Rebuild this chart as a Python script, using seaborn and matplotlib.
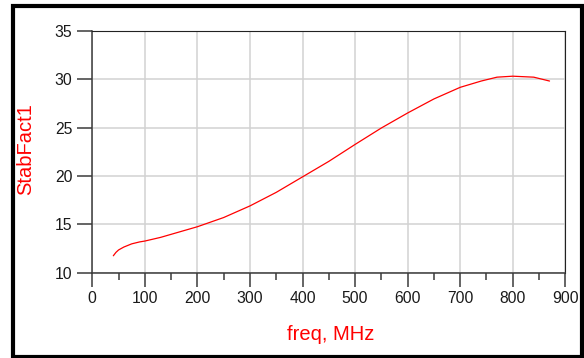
import matplotlib
matplotlib.use("Agg")
import matplotlib.pyplot as plt
import seaborn as sns
import pandas as pd
from matplotlib.patches import Rectangle
from matplotlib.ticker import MultipleLocator

freq = [40, 45, 50, 60, 75, 90, 100, 130, 165, 200, 250, 300, 350, 400, 450, 500,
        550, 600, 650, 700, 740, 770, 800, 840, 870]
stab = [11.75, 12.1, 12.35, 12.65, 12.98, 13.18, 13.27, 13.65, 14.2, 14.75, 15.7,
        16.9, 18.3, 19.9, 21.5, 23.25, 24.95, 26.5, 27.95, 29.15, 29.8, 30.2,
        30.3, 30.2, 29.8]
x_ticks = [0, 100, 200, 300, 400, 500, 600, 700, 800, 900]
y_ticks = [10, 15, 20, 25, 30, 35]
x_label = "freq, MHz"
y_label = "StabFact1"

sns.set_style("white")
plt.rcParams['font.family'] = ['Liberation Sans', 'DejaVu Sans']

W, H = 584, 358
fig = plt.figure(figsize=(W / 100, H / 100), dpi=100)
ax = fig.add_axes([92.3 / W, (H - 272.7) / H, (565.3 - 92.3) / W, (272.7 - 30.7) / H])

df = pd.DataFrame({"freq": freq, "stab": stab})
sns.lineplot(data=df, x="freq", y="stab", color="#ff0000", linewidth=0.9, ax=ax)

ax.set_xlim(0, 900)
ax.set_ylim(10, 35)
ax.set_xticks(x_ticks)
ax.set_yticks(y_ticks)
ax.xaxis.set_minor_locator(MultipleLocator(50))
ax.set_xlabel("")
ax.set_ylabel("")

ax.grid(True, which="major", color="#d2d2d2", linewidth=1.1)
ax.set_axisbelow(True)

for s in ["left", "bottom"]:
    ax.spines[s].set_color("#3a3a3a")
    ax.spines[s].set_linewidth(1.1)
for s in ["top", "right"]:
    ax.spines[s].set_color("#222222")
    ax.spines[s].set_linewidth(0.8)

ax.tick_params(axis="x", which="major", direction="out", length=10, width=1.1,
               color="#3a3a3a", labelsize=11.3, pad=3, labelcolor="#1a1a1a",
               bottom=True)
ax.tick_params(axis="x", which="minor", direction="out", length=5, width=1.1,
               color="#3a3a3a", bottom=True)
ax.tick_params(axis="y", which="major", direction="out", length=10.8, width=1.1,
               color="#3a3a3a", labelsize=11.3, pad=3.5, labelcolor="#1a1a1a",
               left=True)

fig.text(331 / W, (H - 340.3) / H, x_label, color="#ff0000", fontsize=14.5,
         ha="center", va="baseline")
fig.text(30.7 / W, (H - 149) / H, y_label, color="#ff0000", fontsize=14.5,
         ha="center", va="baseline", rotation=90, rotation_mode="anchor")

# outer black frame
x0, x1 = 13.0, 582.0
y0, y1 = 5.5, 356.5
fig.patches.append(Rectangle((x0 / W, (H - y1) / H), (x1 - x0) / W, (y1 - y0) / H,
                             transform=fig.transFigure, fill=False,
                             edgecolor="black", linewidth=3.0, zorder=10))

fig.savefig("out.png", dpi=100)
